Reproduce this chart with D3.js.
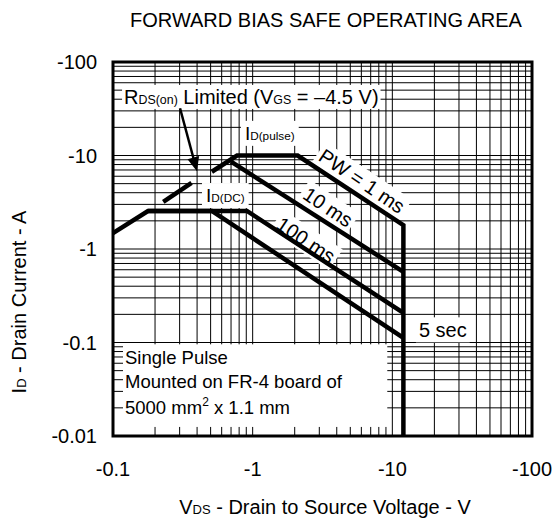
<!DOCTYPE html>
<html>
<head>
<meta charset="utf-8">
<script src="https://cdn.jsdelivr.net/npm/d3@7"></script>
<style>
  body { margin: 0; background: #fff; }
  text { font-family: "Liberation Sans", Arial, sans-serif; fill: #000; }
</style>
</head>
<body>
<div id="chart"></div>
<script>
// Axis ticks (plotted as magnitudes, labelled negative)
const xTicks = [0.1, 1, 10, 100];
const yTicks = [0.01, 0.1, 1, 10, 100];
const xTickLabels = ["-0.1", "-1", "-10", "-100"];
const yTickLabels = ["-0.01", "-0.1", "-1", "-10", "-100"];

// SOA boundaries [VDS, ID]
const dcCurve = [[0.1, 1.48], [0.178, 2.55], [0.51, 2.55], [12, 0.112]];
const ms100Curve = [[0.178, 2.55], [0.91, 2.55], [12, 0.207]];
const ms10Curve = [[0.7, 8.6], [12, 0.57]];
const ms1Curve = [[0.51, 6.7], [0.773, 10], [2.1, 10], [12, 1.8], [12, 0.01]];
const rdsDash = [[0.229, 3.2], [0.365, 5.1]];

const width = 552, height = 524;
const margin = { top: 62, right: 20, bottom: 88, left: 113 };
const chartWidth = width - margin.left - margin.right;
const chartHeight = height - margin.top - margin.bottom;

const svg = d3.select("#chart").append("svg")
    .attr("width", width)
    .attr("height", height);

const chart = svg.append("g")
    .attr("transform", `translate(${margin.left}, ${margin.top})`);

const x = d3.scaleLog().domain([0.1, 100]).range([0, chartWidth]);
const y = d3.scaleLog().domain([0.01, 100]).range([chartHeight, 0]);

// Log grid: 1..9 in every decade
const gridX = [], gridY = [];
[0.1, 1, 10].forEach(d => d3.range(1, 10).forEach(k => gridX.push(d * k)));
[0.01, 0.1, 1, 10].forEach(d => d3.range(1, 10).forEach(k => gridY.push(d * k)));

chart.selectAll(".gx").data(gridX).enter().append("line")
    .attr("x1", d => x(d)).attr("x2", d => x(d))
    .attr("y1", 0).attr("y2", chartHeight)
    .attr("stroke", "#000").attr("stroke-width", 1);

chart.selectAll(".gy").data(gridY).enter().append("line")
    .attr("x1", 0).attr("x2", chartWidth)
    .attr("y1", d => y(d)).attr("y2", d => y(d))
    .attr("stroke", "#000").attr("stroke-width", 1);

// Labels with white boxes that hide the grid behind them
function boxedText(parent, pieces, size, pad) {
    const t = parent.append("text").attr("font-size", size);
    pieces.forEach(p => {
        t.append("tspan").attr("font-size", p.small ? size * 0.62 : size).text(p.s);
    });
    const b = t.node().getBBox();
    parent.insert("rect", "text")
        .attr("x", b.x - pad).attr("y", b.y - pad / 2)
        .attr("width", b.width + pad * 2).attr("height", b.height + pad)
        .attr("fill", "#fff");
    return t;
}

const rdsLabel = chart.append("g")
    .attr("transform", `translate(${x(0.12)}, ${y(35.6)})`);
boxedText(rdsLabel, [
    { s: "R" }, { s: "DS(on)", small: true }, { s: " Limited (V" },
    { s: "GS", small: true }, { s: " = \u20134.5 V)" }
], 20, 2);

const pulseLabel = chart.append("g")
    .attr("transform", `translate(${x(0.88)}, ${y(14.7)})`);
boxedText(pulseLabel, [{ s: "I" }, { s: "D(pulse)", small: true }], 19, 4);

const dcLabel = chart.append("g")
    .attr("transform", `translate(${x(0.463)}, ${y(3.18)})`);
boxedText(dcLabel, [{ s: "I" }, { s: "D(DC)", small: true }], 19, 4);

// Rotated pulse-width labels along the sloped lines
const angle = Math.atan((y(1) - y(10)) / (x(10) - x(1))) * 180 / Math.PI;
[
    { text: "PW = 1 ms", v: 6.06, i: 5.33 },
    { text: "10 ms", v: 3.46, i: 2.81 },
    { text: "100 ms", v: 2.41, i: 1.25 }
].forEach(d => {
    const g = chart.append("g")
        .attr("transform", `translate(${x(d.v)}, ${y(d.i)}) rotate(${angle})`);
    boxedText(g, [{ s: d.text }], 20, 3).attr("text-anchor", "middle").attr("dy", "0.35em");
    const b = g.select("text").node().getBBox();
    g.select("rect").attr("x", b.x - 3).attr("y", b.y - 1.5)
        .attr("width", b.width + 6).attr("height", b.height + 3);
});

const secLabel = chart.append("g")
    .attr("transform", `translate(${x(15.5)}, ${y(0.115)})`);
boxedText(secLabel, [{ s: "5 sec" }], 20, 3);

// Mounting note box
const note = chart.append("g");
note.append("rect")
    .attr("x", 10).attr("y", y(0.098) + 1)
    .attr("width", x(9.2) - 10).attr("height", y(0.0125) - y(0.098) - 1)
    .attr("fill", "#fff");
const noteText = note.append("text").attr("x", 12).attr("font-size", 18.5);
noteText.append("tspan").attr("x", 12).attr("y", y(0.098) + 21).text("Single Pulse");
noteText.append("tspan").attr("x", 12).attr("y", y(0.098) + 45).text("Mounted on FR-4 board of");
const last = noteText.append("tspan").attr("x", 12).attr("y", y(0.098) + 71);
last.append("tspan").text("5000 mm");
last.append("tspan").attr("font-size", 12).attr("dy", -8).text("2");
last.append("tspan").attr("dy", 8).text(" x 1.1 mm");

// Curves
const line = d3.line().x(d => x(d[0])).y(d => y(d[1]));
[dcCurve, ms100Curve, ms10Curve, ms1Curve, rdsDash].forEach(c => {
    chart.append("path")
        .attr("d", line(c))
        .attr("fill", "none")
        .attr("stroke", "#000")
        .attr("stroke-width", 4.5)
        .attr("stroke-linejoin", "miter");
});

// Arrow from the RDS(on) label to the dashed line
const ax1 = x(0.302), ay1 = y(32), ax2 = x(0.399), ay2 = y(6.8);
const ang = Math.atan2(ay2 - ay1, ax2 - ax1);
chart.append("line")
    .attr("x1", ax1).attr("y1", ay1)
    .attr("x2", ax2 - 10 * Math.cos(ang)).attr("y2", ay2 - 10 * Math.sin(ang))
    .attr("stroke", "#000").attr("stroke-width", 2.5);
chart.append("path")
    .attr("d", d3.line()([
        [ax2, ay2],
        [ax2 - 14 * Math.cos(ang) + 6 * Math.sin(ang), ay2 - 14 * Math.sin(ang) - 6 * Math.cos(ang)],
        [ax2 - 14 * Math.cos(ang) - 6 * Math.sin(ang), ay2 - 14 * Math.sin(ang) + 6 * Math.cos(ang)]
    ]) + "Z")
    .attr("fill", "#000");

// Frame
chart.append("rect")
    .attr("width", chartWidth).attr("height", chartHeight)
    .attr("fill", "none").attr("stroke", "#000").attr("stroke-width", 3);

// Tick labels
chart.selectAll(".xl").data(xTicks).enter().append("text")
    .attr("x", d => x(d)).attr("y", chartHeight + 40)
    .attr("text-anchor", "middle").attr("font-size", 20)
    .text((d, i) => xTickLabels[i]);

chart.selectAll(".yl").data(yTicks).enter().append("text")
    .attr("x", -16).attr("y", d => y(d)).attr("dy", "0.35em")
    .attr("text-anchor", "end").attr("font-size", 20)
    .text((d, i) => yTickLabels[i]);

// Titles
svg.append("text")
    .attr("x", 326).attr("y", 27)
    .attr("text-anchor", "middle").attr("font-size", 20)
    .text("FORWARD BIAS SAFE OPERATING AREA");

const xt = svg.append("text")
    .attr("x", 325).attr("y", 514)
    .attr("text-anchor", "middle").attr("font-size", 20);
xt.append("tspan").text("V");
xt.append("tspan").attr("font-size", 13).text("DS");
xt.append("tspan").text(" - Drain to Source Voltage - V");

const yt = svg.append("text")
    .attr("transform", "translate(26, 302) rotate(-90)")
    .attr("text-anchor", "middle").attr("font-size", 20);
yt.append("tspan").text("I");
yt.append("tspan").attr("font-size", 13).text("D");
yt.append("tspan").text(" - Drain Current - A");
</script>
</body>
</html>
